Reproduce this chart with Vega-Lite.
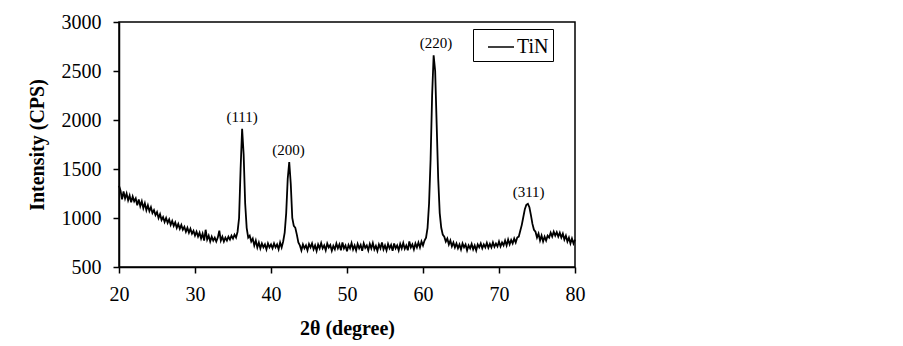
{
  "$schema": "https://vega.github.io/schema/vega-lite/v6.json",
  "width": 456,
  "height": 245,
  "autosize": {"type": "none"},
  "padding": {"left": 119, "top": 22, "right": 328, "bottom": 79},
  "background": "white",
  "config": {
    "font": "Liberation Serif",
    "view": {"stroke": "black", "strokeWidth": 1.5},
    "axis": {
      "grid": false,
      "domainColor": "black",
      "domainWidth": 1.5,
      "tickColor": "black",
      "tickWidth": 1.5,
      "tickSize": 6,
      "labelFlush": false,
      "labelFont": "Liberation Serif",
      "labelFontSize": 20,
      "labelColor": "black",
      "titleFont": "Liberation Serif",
      "titleFontSize": 20,
      "titleFontWeight": "bold",
      "titleColor": "black"
    }
  },
  "datasets": {
    "xrd": [
      {"t":20.0,"i":1330},{"t":20.2,"i":1280},{"t":20.4,"i":1190},{"t":20.6,"i":1270},{"t":20.8,"i":1200},{"t":21.0,"i":1250},{"t":21.2,"i":1180},{"t":21.4,"i":1230},{"t":21.6,"i":1160},{"t":21.8,"i":1220},
      {"t":22.0,"i":1170},{"t":22.2,"i":1200},{"t":22.4,"i":1130},{"t":22.6,"i":1190},{"t":22.8,"i":1120},{"t":23.0,"i":1170},{"t":23.2,"i":1100},{"t":23.4,"i":1150},{"t":23.6,"i":1080},{"t":23.8,"i":1130},
      {"t":24.0,"i":1070},{"t":24.2,"i":1110},{"t":24.4,"i":1050},{"t":24.6,"i":1080},{"t":24.8,"i":1030},{"t":25.0,"i":1060},{"t":25.2,"i":1000},{"t":25.4,"i":1040},{"t":25.6,"i":980},{"t":25.8,"i":1010},
      {"t":26.0,"i":960},{"t":26.2,"i":1000},{"t":26.4,"i":950},{"t":26.6,"i":985},{"t":26.8,"i":930},{"t":27.0,"i":970},{"t":27.2,"i":920},{"t":27.4,"i":955},{"t":27.6,"i":900},{"t":27.8,"i":940},
      {"t":28.0,"i":890},{"t":28.2,"i":930},{"t":28.4,"i":880},{"t":28.6,"i":910},{"t":28.8,"i":860},{"t":29.0,"i":900},{"t":29.2,"i":850},{"t":29.4,"i":890},{"t":29.6,"i":840},{"t":29.8,"i":870},
      {"t":30.0,"i":820},{"t":30.2,"i":860},{"t":30.4,"i":810},{"t":30.6,"i":850},{"t":30.8,"i":790},{"t":31.0,"i":840},{"t":31.2,"i":770},{"t":31.4,"i":880},{"t":31.6,"i":780},{"t":31.8,"i":820},
      {"t":32.0,"i":760},{"t":32.2,"i":810},{"t":32.4,"i":770},{"t":32.6,"i":800},{"t":32.8,"i":760},{"t":33.0,"i":800},{"t":33.2,"i":870},{"t":33.4,"i":770},{"t":33.6,"i":810},{"t":33.8,"i":760},
      {"t":34.0,"i":800},{"t":34.2,"i":770},{"t":34.4,"i":810},{"t":34.6,"i":780},{"t":34.8,"i":820},{"t":35.0,"i":790},{"t":35.2,"i":830},{"t":35.4,"i":800},{"t":35.6,"i":860},{"t":35.8,"i":1000},
      {"t":36.0,"i":1500},{"t":36.2,"i":1910},{"t":36.4,"i":1650},{"t":36.6,"i":1150},{"t":36.8,"i":900},{"t":37.0,"i":800},{"t":37.2,"i":820},{"t":37.4,"i":760},{"t":37.6,"i":790},{"t":37.8,"i":720},
      {"t":38.0,"i":770},{"t":38.2,"i":700},{"t":38.4,"i":750},{"t":38.6,"i":690},{"t":38.8,"i":740},{"t":39.0,"i":700},{"t":39.2,"i":730},{"t":39.4,"i":680},{"t":39.6,"i":740},{"t":39.8,"i":700},
      {"t":40.0,"i":730},{"t":40.2,"i":690},{"t":40.4,"i":740},{"t":40.6,"i":700},{"t":40.8,"i":730},{"t":41.0,"i":680},{"t":41.2,"i":750},{"t":41.4,"i":700},{"t":41.6,"i":760},{"t":41.8,"i":850},
      {"t":42.0,"i":1050},{"t":42.2,"i":1400},{"t":42.4,"i":1570},{"t":42.6,"i":1350},{"t":42.8,"i":1000},{"t":43.0,"i":920},{"t":43.2,"i":900},{"t":43.4,"i":830},{"t":43.6,"i":750},{"t":43.8,"i":720},
      {"t":44.0,"i":670},{"t":44.2,"i":730},{"t":44.4,"i":690},{"t":44.6,"i":720},{"t":44.8,"i":670},{"t":45.0,"i":735},{"t":45.2,"i":700},{"t":45.4,"i":740},{"t":45.6,"i":680},{"t":45.8,"i":720},
      {"t":46.0,"i":665},{"t":46.2,"i":730},{"t":46.4,"i":690},{"t":46.6,"i":745},{"t":46.8,"i":690},{"t":47.0,"i":720},{"t":47.2,"i":670},{"t":47.4,"i":740},{"t":47.6,"i":700},{"t":47.8,"i":725},
      {"t":48.0,"i":665},{"t":48.2,"i":715},{"t":48.4,"i":680},{"t":48.6,"i":740},{"t":48.8,"i":690},{"t":49.0,"i":730},{"t":49.2,"i":670},{"t":49.4,"i":750},{"t":49.6,"i":690},{"t":49.8,"i":720},
      {"t":50.0,"i":660},{"t":50.2,"i":725},{"t":50.4,"i":690},{"t":50.6,"i":745},{"t":50.8,"i":680},{"t":51.0,"i":720},{"t":51.2,"i":670},{"t":51.4,"i":735},{"t":51.6,"i":690},{"t":51.8,"i":725},
      {"t":52.0,"i":665},{"t":52.2,"i":740},{"t":52.4,"i":695},{"t":52.6,"i":720},{"t":52.8,"i":670},{"t":53.0,"i":735},{"t":53.2,"i":690},{"t":53.4,"i":745},{"t":53.6,"i":680},{"t":53.8,"i":715},
      {"t":54.0,"i":665},{"t":54.2,"i":730},{"t":54.4,"i":690},{"t":54.6,"i":750},{"t":54.8,"i":680},{"t":55.0,"i":720},{"t":55.2,"i":670},{"t":55.4,"i":735},{"t":55.6,"i":690},{"t":55.8,"i":725},
      {"t":56.0,"i":665},{"t":56.2,"i":740},{"t":56.4,"i":690},{"t":56.6,"i":720},{"t":56.8,"i":670},{"t":57.0,"i":735},{"t":57.2,"i":690},{"t":57.4,"i":745},{"t":57.6,"i":685},{"t":57.8,"i":720},
      {"t":58.0,"i":670},{"t":58.2,"i":760},{"t":58.4,"i":700},{"t":58.6,"i":730},{"t":58.8,"i":680},{"t":59.0,"i":740},{"t":59.2,"i":700},{"t":59.4,"i":750},{"t":59.6,"i":700},{"t":59.8,"i":760},
      {"t":60.0,"i":720},{"t":60.2,"i":770},{"t":60.4,"i":800},{"t":60.6,"i":900},{"t":60.8,"i":1150},{"t":61.0,"i":1600},{"t":61.2,"i":2250},{"t":61.4,"i":2660},{"t":61.6,"i":2500},{"t":61.8,"i":1950},
      {"t":62.0,"i":1400},{"t":62.2,"i":1050},{"t":62.4,"i":900},{"t":62.6,"i":830},{"t":62.8,"i":810},{"t":63.0,"i":760},{"t":63.2,"i":790},{"t":63.4,"i":730},{"t":63.6,"i":770},{"t":63.8,"i":710},
      {"t":64.0,"i":750},{"t":64.2,"i":700},{"t":64.4,"i":740},{"t":64.6,"i":690},{"t":64.8,"i":730},{"t":65.0,"i":680},{"t":65.2,"i":740},{"t":65.4,"i":700},{"t":65.6,"i":730},{"t":65.8,"i":670},
      {"t":66.0,"i":720},{"t":66.2,"i":690},{"t":66.4,"i":735},{"t":66.6,"i":680},{"t":66.8,"i":720},{"t":67.0,"i":670},{"t":67.2,"i":730},{"t":67.4,"i":700},{"t":67.6,"i":740},{"t":67.8,"i":690},
      {"t":68.0,"i":730},{"t":68.2,"i":700},{"t":68.4,"i":745},{"t":68.6,"i":695},{"t":68.8,"i":735},{"t":69.0,"i":700},{"t":69.2,"i":750},{"t":69.4,"i":705},{"t":69.6,"i":740},{"t":69.8,"i":710},
      {"t":70.0,"i":760},{"t":70.2,"i":710},{"t":70.4,"i":750},{"t":70.6,"i":720},{"t":70.8,"i":770},{"t":71.0,"i":720},{"t":71.2,"i":780},{"t":71.4,"i":730},{"t":71.6,"i":775},{"t":71.8,"i":740},
      {"t":72.0,"i":790},{"t":72.2,"i":750},{"t":72.4,"i":800},{"t":72.6,"i":810},{"t":72.8,"i":870},{"t":73.0,"i":930},{"t":73.2,"i":1010},{"t":73.4,"i":1090},{"t":73.6,"i":1135},{"t":73.8,"i":1145},
      {"t":74.0,"i":1110},{"t":74.2,"i":1030},{"t":74.4,"i":940},{"t":74.6,"i":880},{"t":74.8,"i":860},{"t":75.0,"i":800},{"t":75.2,"i":840},{"t":75.4,"i":770},{"t":75.6,"i":820},{"t":75.8,"i":760},
      {"t":76.0,"i":810},{"t":76.2,"i":770},{"t":76.4,"i":820},{"t":76.6,"i":800},{"t":76.8,"i":850},{"t":77.0,"i":810},{"t":77.2,"i":860},{"t":77.4,"i":820},{"t":77.6,"i":855},{"t":77.8,"i":810},
      {"t":78.0,"i":850},{"t":78.2,"i":800},{"t":78.4,"i":840},{"t":78.6,"i":780},{"t":78.8,"i":820},{"t":79.0,"i":760},{"t":79.2,"i":800},{"t":79.4,"i":740},{"t":79.6,"i":790},{"t":79.8,"i":740},
      {"t":80.0,"i":780}
    ],
    "peaks": [
      {"t":36.2,"i":1910,"label":"(111)"},
      {"t":42.3,"i":1570,"label":"(200)"},
      {"t":61.7,"i":2660,"label":"(220)"},
      {"t":73.9,"i":1145,"label":"(311)"}
    ]
  },
  "layer": [
    {
      "data": {"name": "xrd"},
      "mark": {"type": "line", "strokeWidth": 1.8, "interpolate": "linear"},
      "encoding": {
        "x": {
          "field": "t", "type": "quantitative",
          "scale": {"domain": [20, 80], "nice": false},
          "axis": {"title": "2θ (degree)", "values": [20,30,40,50,60,70,80], "labelPadding": 11, "titlePadding": 14}
        },
        "y": {
          "field": "i", "type": "quantitative",
          "scale": {"domain": [500, 3000], "nice": false, "zero": false},
          "axis": {"title": "Intensity (CPS)", "format": "d", "values": [500,1000,1500,2000,2500,3000], "labelPadding": 12, "titlePadding": 14}
        },
        "color": {
          "datum": "TiN", "type": "nominal",
          "scale": {"range": ["black"]},
          "legend": {
            "title": null,
            "orient": "none",
            "legendX": 354,
            "legendY": 7,
            "strokeColor": "black",
            "padding": 4,
            "symbolType": "stroke",
            "symbolSize": 676,
            "symbolStrokeWidth": 1.5,
            "symbolOffset": 10,
            "labelFont": "Liberation Serif",
            "labelFontSize": 20,
            "labelColor": "black",
            "labelOffset": 2
          }
        }
      }
    },
    {
      "data": {"name": "peaks"},
      "mark": {"type": "text", "baseline": "bottom", "dy": -4, "fontSize": 15, "font": "Liberation Serif", "color": "black"},
      "encoding": {
        "x": {"field": "t", "type": "quantitative"},
        "y": {"field": "i", "type": "quantitative"},
        "text": {"field": "label"}
      }
    }
  ]
}
